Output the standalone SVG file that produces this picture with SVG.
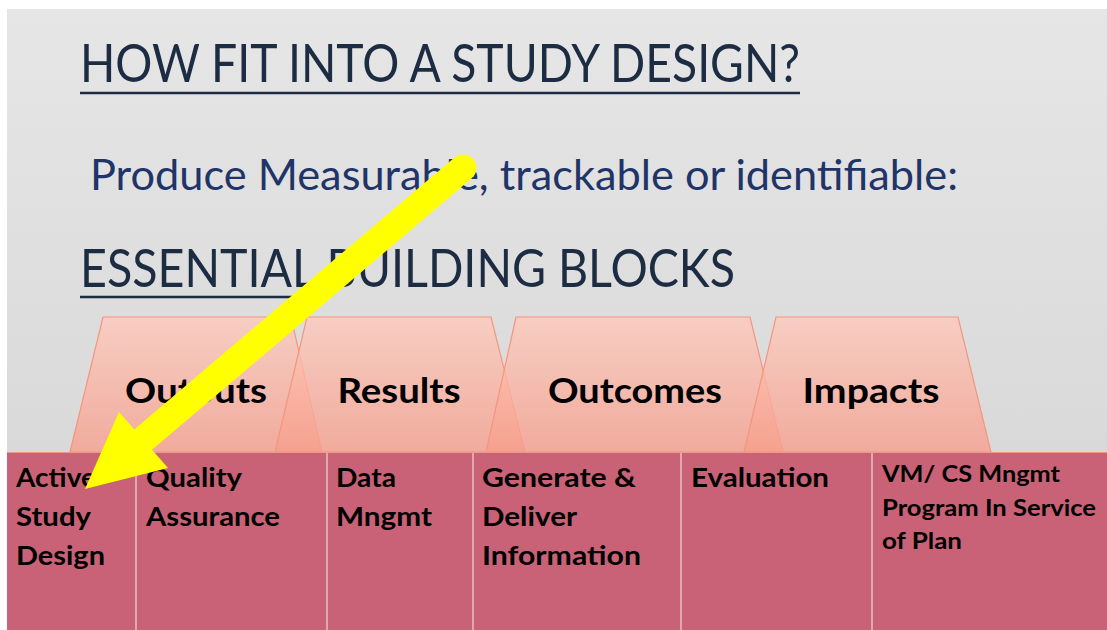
<svg xmlns="http://www.w3.org/2000/svg" width="1107" height="630" viewBox="0 0 1107 630">
  <defs>
    <linearGradient id="bg" x1="0" y1="0" x2="0" y2="1">
      <stop offset="0" stop-color="#e6e6e6"/>
      <stop offset="1" stop-color="#d4d4d4"/>
    </linearGradient>
    <linearGradient id="trap" x1="0" y1="0" x2="0" y2="1">
      <stop offset="0" stop-color="#ffc9bc"/>
      <stop offset="1" stop-color="#f79e8b"/>
    </linearGradient>
    <style>
      .head { font-family: Lato, "Open Sans", "Liberation Sans", sans-serif; fill: #1c2c42; }
      .sub { font-family: Lato, "Open Sans", "Liberation Sans", sans-serif; fill: #1f3468; }
      .trap { fill: url(#trap); fill-opacity: 0.78; stroke: #f3967e; stroke-width: 1.2; }
      .tlabel { font-family: Lato, "Open Sans", "Liberation Sans", sans-serif; font-weight: bold; font-size: 34px; fill: #000; text-anchor: middle; }
      .box { fill: #c96276; }
      .div { stroke: #ebb9c2; stroke-width: 1.6; }
      .btext { font-family: Lato, "Open Sans", "Liberation Sans", sans-serif; font-weight: bold; font-size: 26px; fill: #000; }
      .btext2 { font-family: Lato, "Open Sans", "Liberation Sans", sans-serif; font-weight: bold; font-size: 22px; fill: #000; }
      .ul { stroke: #1c2c42; stroke-width: 2.5; }
      .arrow { stroke: #ffff00; stroke-width: 27; stroke-linecap: round; fill: none; }
      .arrowhead { fill: #ffff00; }
    </style>
  </defs>

  <rect x="0" y="0" width="1107" height="630" fill="#ffffff"/>
  <rect x="7" y="9" width="1100" height="621" fill="url(#bg)"/>

  <g id="title">
    <text class="head" x="80" y="82" font-size="52" textLength="720" lengthAdjust="spacingAndGlyphs">HOW FIT INTO A STUDY DESIGN?</text>
    <line class="ul" x1="80" y1="93" x2="800" y2="93"/>
  </g>
  <g id="subtitle">
    <text class="sub" x="90" y="190" font-size="42" textLength="868" lengthAdjust="spacingAndGlyphs">Produce Measurable, trackable or identifiable:</text>
  </g>
  <g id="heading">
    <text class="head" x="80" y="287" font-size="52" textLength="655" lengthAdjust="spacingAndGlyphs">ESSENTIAL BUILDING BLOCKS</text>
    <line class="ul" x1="80" y1="297" x2="300" y2="297"/>
  </g>

  <g id="outputs">
    <polygon class="trap" points="103,317 291,317 322,452 70,452"/>
    <text class="tlabel" x="196" y="403" textLength="142" lengthAdjust="spacingAndGlyphs">Outputs</text>
  </g>
  <g id="results">
    <polygon class="trap" points="307,317 491,317 525,452 275,452"/>
    <text class="tlabel" x="399" y="403" textLength="123" lengthAdjust="spacingAndGlyphs">Results</text>
  </g>
  <g id="outcomes">
    <polygon class="trap" points="516,317 750,317 783,452 486,452"/>
    <text class="tlabel" x="635" y="403" textLength="174" lengthAdjust="spacingAndGlyphs">Outcomes</text>
  </g>
  <g id="impacts">
    <polygon class="trap" points="776,317 958,317 991,452 744,452"/>
    <text class="tlabel" x="871" y="403" textLength="137" lengthAdjust="spacingAndGlyphs">Impacts</text>
  </g>

  <g id="blocks">
    <rect class="box" x="7" y="452" width="1100" height="178"/>
    <line x1="7" y1="452.5" x2="1107" y2="452.5" stroke="#ee9a8a" stroke-width="1.2"/>
  </g>
  <g id="box-active">
    <text class="btext"><tspan x="16" y="487" textLength="80" lengthAdjust="spacingAndGlyphs">Active</tspan><tspan x="16" y="526" textLength="75" lengthAdjust="spacingAndGlyphs">Study</tspan><tspan x="16" y="565" textLength="89" lengthAdjust="spacingAndGlyphs">Design</tspan></text>
  </g>
  <g id="box-quality">
    <line class="div" x1="136" y1="453" x2="136" y2="630"/>
    <text class="btext"><tspan x="146" y="487" textLength="96" lengthAdjust="spacingAndGlyphs">Quality</tspan><tspan x="146" y="526" textLength="134" lengthAdjust="spacingAndGlyphs">Assurance</tspan></text>
  </g>
  <g id="box-data">
    <line class="div" x1="327" y1="453" x2="327" y2="630"/>
    <text class="btext"><tspan x="336" y="487" textLength="60" lengthAdjust="spacingAndGlyphs">Data</tspan><tspan x="336" y="526" textLength="96" lengthAdjust="spacingAndGlyphs">Mngmt</tspan></text>
  </g>
  <g id="box-generate">
    <line class="div" x1="473" y1="453" x2="473" y2="630"/>
    <text class="btext"><tspan x="482" y="487" textLength="154" lengthAdjust="spacingAndGlyphs">Generate &amp;</tspan><tspan x="482" y="526" textLength="95" lengthAdjust="spacingAndGlyphs">Deliver</tspan><tspan x="482" y="565" textLength="159" lengthAdjust="spacingAndGlyphs">Information</tspan></text>
  </g>
  <g id="box-evaluation">
    <line class="div" x1="681" y1="453" x2="681" y2="630"/>
    <text class="btext"><tspan x="691" y="487" textLength="138" lengthAdjust="spacingAndGlyphs">Evaluation</tspan></text>
  </g>
  <g id="box-vm">
    <line class="div" x1="872" y1="453" x2="872" y2="630"/>
    <text class="btext2"><tspan x="882" y="482" textLength="178" lengthAdjust="spacingAndGlyphs">VM/ CS Mngmt</tspan><tspan x="882" y="516" textLength="214" lengthAdjust="spacingAndGlyphs">Program In Service</tspan><tspan x="882" y="549" textLength="80" lengthAdjust="spacingAndGlyphs">of Plan</tspan></text>
  </g>

  <g id="connectors">
    <line class="arrow" x1="463" y1="168" x2="145" y2="438"/>
    <polygon class="arrowhead" points="85,489 119,412 168,468"/>
  </g>
</svg>
